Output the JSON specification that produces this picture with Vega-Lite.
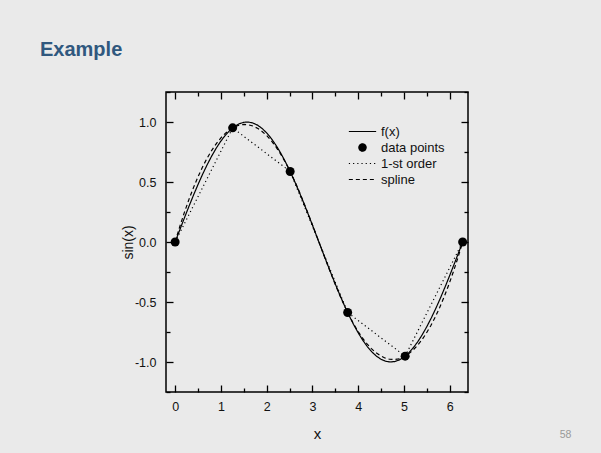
{
  "$schema": "https://vega.github.io/schema/vega-lite/v6.json",
  "autosize": "none",
  "width": 302,
  "height": 300,
  "padding": {"left": 166, "top": 92, "right": 133, "bottom": 61},
  "background": "#eaeaea",
  "title": {"text": "Example", "anchor": "start", "frame": "group", "dx": -126, "offset": 15, "baseline": "alphabetic", "font": "Liberation Sans", "fontSize": 20, "fontWeight": "bold", "color": "#30587e"},
  "data": {"values": [
    {"series": "f(x)", "x": 0, "y": 0}, {"series": "f(x)", "x": 0.1, "y": 0.0998}, {"series": "f(x)", "x": 0.2, "y": 0.1987}, {"series": "f(x)", "x": 0.3, "y": 0.2955}, {"series": "f(x)", "x": 0.4, "y": 0.3894}, {"series": "f(x)", "x": 0.5, "y": 0.4794}, {"series": "f(x)", "x": 0.6, "y": 0.5646}, {"series": "f(x)", "x": 0.7, "y": 0.6442}, {"series": "f(x)", "x": 0.8, "y": 0.7174}, {"series": "f(x)", "x": 0.9, "y": 0.7833},
    {"series": "f(x)", "x": 1.0, "y": 0.8415}, {"series": "f(x)", "x": 1.1, "y": 0.8912}, {"series": "f(x)", "x": 1.2, "y": 0.932}, {"series": "f(x)", "x": 1.3, "y": 0.9636}, {"series": "f(x)", "x": 1.4, "y": 0.9854}, {"series": "f(x)", "x": 1.5, "y": 0.9975}, {"series": "f(x)", "x": 1.6, "y": 0.9996}, {"series": "f(x)", "x": 1.7, "y": 0.9917}, {"series": "f(x)", "x": 1.8, "y": 0.9738}, {"series": "f(x)", "x": 1.9, "y": 0.9463},
    {"series": "f(x)", "x": 2.0, "y": 0.9093}, {"series": "f(x)", "x": 2.1, "y": 0.8632}, {"series": "f(x)", "x": 2.2, "y": 0.8085}, {"series": "f(x)", "x": 2.3, "y": 0.7457}, {"series": "f(x)", "x": 2.4, "y": 0.6755}, {"series": "f(x)", "x": 2.5, "y": 0.5985}, {"series": "f(x)", "x": 2.6, "y": 0.5155}, {"series": "f(x)", "x": 2.7, "y": 0.4274}, {"series": "f(x)", "x": 2.8, "y": 0.335}, {"series": "f(x)", "x": 2.9, "y": 0.2392},
    {"series": "f(x)", "x": 3.0, "y": 0.1411}, {"series": "f(x)", "x": 3.1, "y": 0.0416}, {"series": "f(x)", "x": 3.2, "y": -0.0584}, {"series": "f(x)", "x": 3.3, "y": -0.1577}, {"series": "f(x)", "x": 3.4, "y": -0.2555}, {"series": "f(x)", "x": 3.5, "y": -0.3508}, {"series": "f(x)", "x": 3.6, "y": -0.4425}, {"series": "f(x)", "x": 3.7, "y": -0.5298}, {"series": "f(x)", "x": 3.8, "y": -0.6119}, {"series": "f(x)", "x": 3.9, "y": -0.6878},
    {"series": "f(x)", "x": 4.0, "y": -0.7568}, {"series": "f(x)", "x": 4.1, "y": -0.8183}, {"series": "f(x)", "x": 4.2, "y": -0.8716}, {"series": "f(x)", "x": 4.3, "y": -0.9162}, {"series": "f(x)", "x": 4.4, "y": -0.9516}, {"series": "f(x)", "x": 4.5, "y": -0.9775}, {"series": "f(x)", "x": 4.6, "y": -0.9937}, {"series": "f(x)", "x": 4.7, "y": -0.9999}, {"series": "f(x)", "x": 4.8, "y": -0.9962}, {"series": "f(x)", "x": 4.9, "y": -0.9825},
    {"series": "f(x)", "x": 5.0, "y": -0.9589}, {"series": "f(x)", "x": 5.1, "y": -0.9258}, {"series": "f(x)", "x": 5.2, "y": -0.8835}, {"series": "f(x)", "x": 5.3, "y": -0.8323}, {"series": "f(x)", "x": 5.4, "y": -0.7728}, {"series": "f(x)", "x": 5.5, "y": -0.7055}, {"series": "f(x)", "x": 5.6, "y": -0.6313}, {"series": "f(x)", "x": 5.7, "y": -0.5507}, {"series": "f(x)", "x": 5.8, "y": -0.4646}, {"series": "f(x)", "x": 5.9, "y": -0.3739},
    {"series": "f(x)", "x": 6.0, "y": -0.2794}, {"series": "f(x)", "x": 6.1, "y": -0.1822}, {"series": "f(x)", "x": 6.2, "y": -0.0831}, {"series": "f(x)", "x": 6.2832, "y": 0},
    {"series": "data points", "x": 0, "y": 0}, {"series": "data points", "x": 1.2566, "y": 0.9511}, {"series": "data points", "x": 2.5133, "y": 0.5878}, {"series": "data points", "x": 3.7699, "y": -0.5878}, {"series": "data points", "x": 5.0265, "y": -0.9511}, {"series": "data points", "x": 6.2832, "y": 0},
    {"series": "1-st order", "x": 0, "y": 0}, {"series": "1-st order", "x": 1.2566, "y": 0.9511}, {"series": "1-st order", "x": 2.5133, "y": 0.5878}, {"series": "1-st order", "x": 3.7699, "y": -0.5878}, {"series": "1-st order", "x": 5.0265, "y": -0.9511}, {"series": "1-st order", "x": 6.2832, "y": 0},
    {"series": "spline", "x": 0, "y": 0}, {"series": "spline", "x": 0.1, "y": 0.1268}, {"series": "spline", "x": 0.2, "y": 0.2446}, {"series": "spline", "x": 0.3, "y": 0.3533}, {"series": "spline", "x": 0.4, "y": 0.4531}, {"series": "spline", "x": 0.5, "y": 0.544}, {"series": "spline", "x": 0.6, "y": 0.6261}, {"series": "spline", "x": 0.7, "y": 0.6995}, {"series": "spline", "x": 0.8, "y": 0.7642}, {"series": "spline", "x": 0.9, "y": 0.8203},
    {"series": "spline", "x": 1.0, "y": 0.8678}, {"series": "spline", "x": 1.1, "y": 0.9068}, {"series": "spline", "x": 1.2, "y": 0.9374}, {"series": "spline", "x": 1.3, "y": 0.9597}, {"series": "spline", "x": 1.4, "y": 0.9736}, {"series": "spline", "x": 1.5, "y": 0.9794}, {"series": "spline", "x": 1.6, "y": 0.9769}, {"series": "spline", "x": 1.7, "y": 0.9664}, {"series": "spline", "x": 1.8, "y": 0.9478}, {"series": "spline", "x": 1.9, "y": 0.9212},
    {"series": "spline", "x": 2.0, "y": 0.8868}, {"series": "spline", "x": 2.1, "y": 0.8444}, {"series": "spline", "x": 2.2, "y": 0.7944}, {"series": "spline", "x": 2.3, "y": 0.7365}, {"series": "spline", "x": 2.4, "y": 0.6711}, {"series": "spline", "x": 2.5, "y": 0.5981}, {"series": "spline", "x": 2.5133, "y": 0.5878}, {"series": "spline", "x": 2.6, "y": 0.5176}, {"series": "spline", "x": 2.7, "y": 0.4307}, {"series": "spline", "x": 2.8, "y": 0.3385},
    {"series": "spline", "x": 2.9, "y": 0.2422}, {"series": "spline", "x": 3.0, "y": 0.143}, {"series": "spline", "x": 3.1, "y": 0.0422}, {"series": "spline", "x": 3.2, "y": -0.0592}, {"series": "spline", "x": 3.3, "y": -0.1599}, {"series": "spline", "x": 3.4, "y": -0.2586}, {"series": "spline", "x": 3.5, "y": -0.3543}, {"series": "spline", "x": 3.6, "y": -0.4457}, {"series": "spline", "x": 3.7, "y": -0.5316}, {"series": "spline", "x": 3.7699, "y": -0.5878},
    {"series": "spline", "x": 3.7832, "y": -0.5981}, {"series": "spline", "x": 3.8832, "y": -0.6711}, {"series": "spline", "x": 3.9832, "y": -0.7365}, {"series": "spline", "x": 4.0832, "y": -0.7944}, {"series": "spline", "x": 4.1832, "y": -0.8444}, {"series": "spline", "x": 4.2832, "y": -0.8868}, {"series": "spline", "x": 4.3832, "y": -0.9212}, {"series": "spline", "x": 4.4832, "y": -0.9478}, {"series": "spline", "x": 4.5832, "y": -0.9664}, {"series": "spline", "x": 4.6832, "y": -0.9769},
    {"series": "spline", "x": 4.7832, "y": -0.9794}, {"series": "spline", "x": 4.8832, "y": -0.9736}, {"series": "spline", "x": 4.9832, "y": -0.9597}, {"series": "spline", "x": 5.0832, "y": -0.9374}, {"series": "spline", "x": 5.1832, "y": -0.9068}, {"series": "spline", "x": 5.2832, "y": -0.8678}, {"series": "spline", "x": 5.3832, "y": -0.8203}, {"series": "spline", "x": 5.4832, "y": -0.7642}, {"series": "spline", "x": 5.5832, "y": -0.6995}, {"series": "spline", "x": 5.6832, "y": -0.6261},
    {"series": "spline", "x": 5.7832, "y": -0.544}, {"series": "spline", "x": 5.8832, "y": -0.4531}, {"series": "spline", "x": 5.9832, "y": -0.3533}, {"series": "spline", "x": 6.0832, "y": -0.2446}, {"series": "spline", "x": 6.1832, "y": -0.1268}, {"series": "spline", "x": 6.2832, "y": 0}
  ]},
  "layer": [
    {
      "transform": [{"filter": "datum.series != 'data points'"}],
      "mark": {"type": "line", "color": "black", "strokeWidth": 1.2, "clip": true},
      "encoding": {
        "x": {"field": "x", "type": "quantitative", "scale": {"domain": [-0.2, 6.4], "nice": false, "zero": false},
          "axis": {"orient": "bottom", "values": [0, 0.5, 1, 1.5, 2, 2.5, 3, 3.5, 4, 4.5, 5, 5.5, 6], "domain": false, "grid": false,
            "tickColor": "black", "tickWidth": 1.3, "tickSize": {"condition": {"test": "datum.value % 1 === 0", "value": -7}, "value": -4},
            "labelExpr": "datum.value % 1 === 0 ? format(datum.value, 'd') : ''",
            "labelFont": "Liberation Sans", "labelFontSize": 12.5, "labelColor": "#111", "labelPadding": 15,
            "title": "x", "titleFont": "Liberation Sans", "titleFontSize": 15, "titleFontWeight": "normal", "titleColor": "#111", "titleY": 46, "titleBaseline": "alphabetic"}},
        "y": {"field": "y", "type": "quantitative", "scale": {"domain": [-1.25, 1.25], "nice": false, "zero": false},
          "axis": {"orient": "left", "values": [-1.25, -1, -0.75, -0.5, -0.25, 0, 0.25, 0.5, 0.75, 1, 1.25], "domain": false, "grid": false,
            "tickColor": "black", "tickWidth": 1.3, "tickSize": {"condition": {"test": "datum.value % 0.5 === 0", "value": -7}, "value": -4},
            "labelExpr": "datum.value % 0.5 === 0 ? replace(format(datum.value, '.1f'), '\u2212', '-') : ''",
            "labelFont": "Liberation Sans", "labelFontSize": 12.5, "labelColor": "#111", "labelPadding": 17,
            "title": "sin(x)", "titleFont": "Liberation Sans", "titleFontSize": 14, "titleFontWeight": "normal", "titleColor": "#111", "titleX": -38, "titleY": 150, "titleAngle": -90, "titleAlign": "center", "titleBaseline": "middle"}},
        "strokeDash": {"field": "series", "type": "nominal",
          "scale": {"domain": ["f(x)", "data points", "1-st order", "spline"], "range": [[1, 0], [1, 0], [1.2, 3], [4, 3]]},
          "legend": {"title": null, "encode": {"symbols": {"update": {"stroke": {"value": "black"}, "strokeWidth": {"value": 1.2}}}}}}
      }
    },
    {
      "transform": [{"filter": "datum.series == 'data points'"}],
      "mark": {"type": "point", "filled": true, "color": "black", "size": 81, "opacity": 1},
      "encoding": {
        "x": {"field": "x", "type": "quantitative",
          "axis": {"orient": "top", "values": [0, 0.5, 1, 1.5, 2, 2.5, 3, 3.5, 4, 4.5, 5, 5.5, 6], "domain": false, "grid": false, "labels": false,
            "tickColor": "black", "tickWidth": 1.3, "tickSize": {"condition": {"test": "datum.value % 1 === 0", "value": -7}, "value": -4},
            "title": "58", "titleX": 399, "titleY": 342.5, "titleAngle": 0, "titleAlign": "center", "titleBaseline": "middle",
            "titleFont": "Liberation Sans", "titleFontSize": 10.5, "titleFontWeight": "normal", "titleColor": "#999999"}},
        "y": {"field": "y", "type": "quantitative",
          "axis": {"orient": "right", "values": [-1.25, -1, -0.75, -0.5, -0.25, 0, 0.25, 0.5, 0.75, 1, 1.25], "domain": false, "grid": false, "labels": false,
            "tickColor": "black", "tickWidth": 1.3, "tickSize": {"condition": {"test": "datum.value % 0.5 === 0", "value": -7}, "value": -4},
            "title": null}},
        "shape": {"field": "series", "type": "nominal",
          "scale": {"domain": ["f(x)", "data points", "1-st order", "spline"], "range": ["M-3.75,0H3.75", "circle", "M-3.75,0H3.75", "M-3.75,0H3.75"]},
          "legend": {"title": null, "encode": {"symbols": {"update": {"stroke": {"value": "black"}, "strokeWidth": {"value": 1.2}}}}}}
      }
    }
  ],
  "resolve": {"axis": {"x": "independent", "y": "independent"}},
  "config": {
    "view": {"stroke": "black", "strokeWidth": 1.5},
    "legend": {"orient": "none", "legendX": 190, "legendY": 33, "padding": 0, "labelFont": "Liberation Sans", "labelFontSize": 13, "labelColor": "#111",
      "symbolSize": 53, "symbolStrokeColor": "black", "symbolFillColor": "black", "symbolStrokeWidth": 1.2, "labelOffset": 12, "rowPadding": 2}
  }
}
